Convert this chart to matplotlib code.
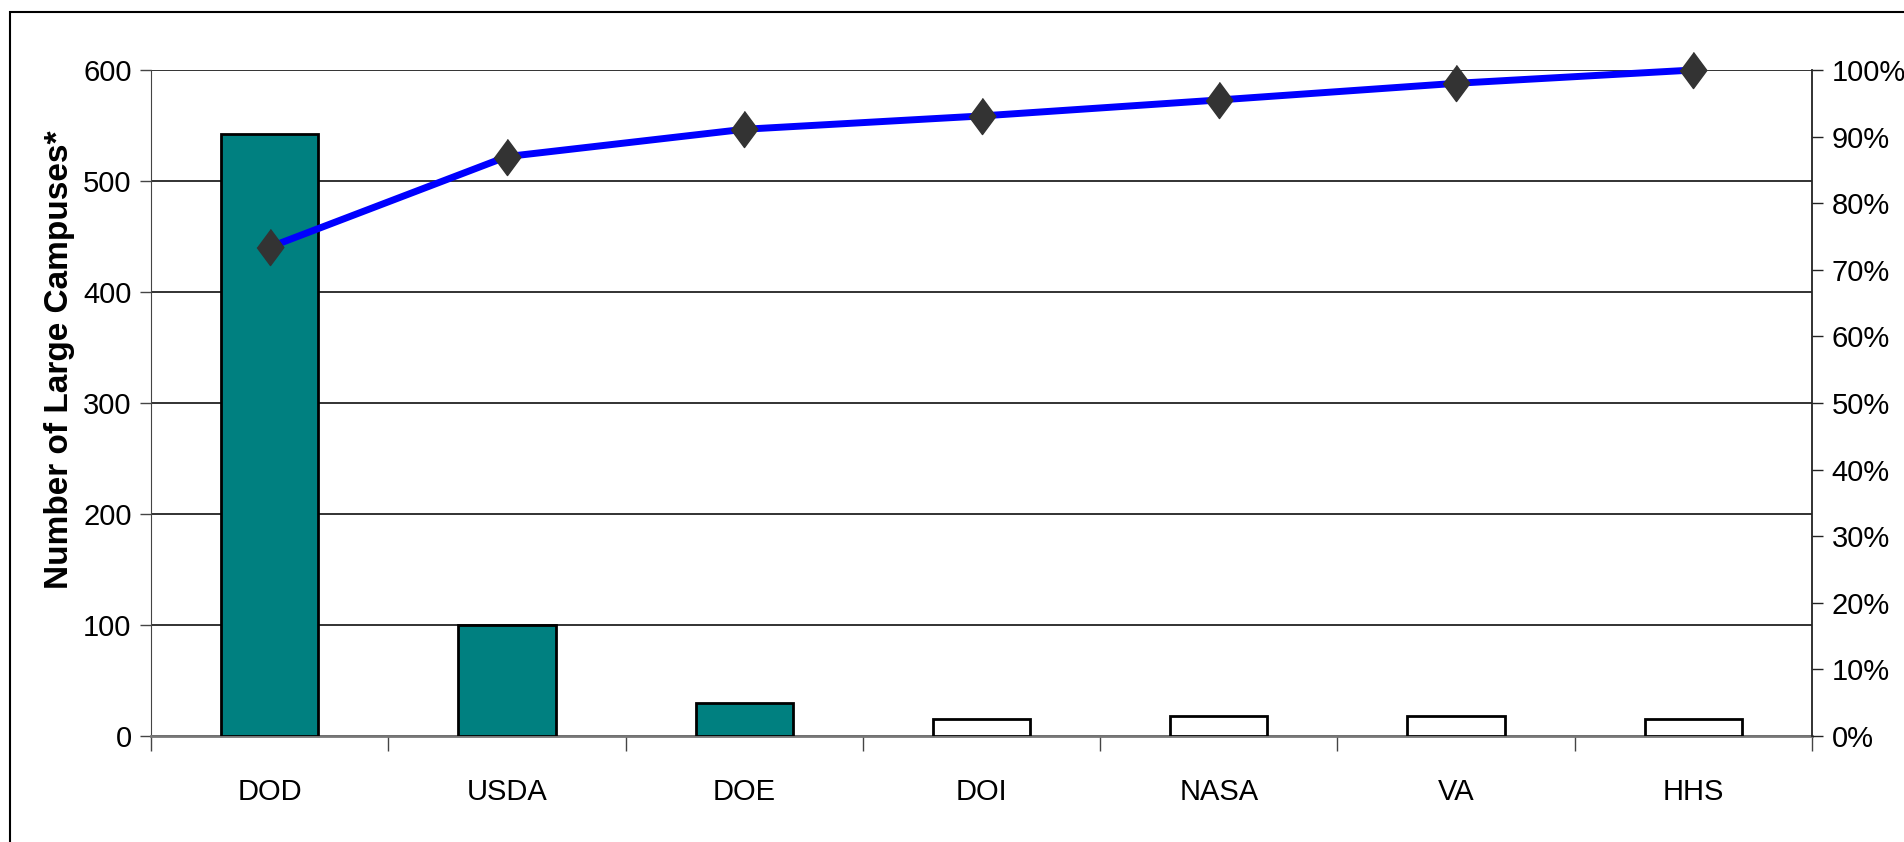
import numpy as np
import matplotlib.pyplot as plt
from matplotlib.patches import Rectangle
from matplotlib.ticker import FixedLocator, NullFormatter

plt.rcParams['font.family'] = ['Liberation Sans Narrow', 'Liberation Sans', 'DejaVu Sans']

agencies = ['DOD', 'USDA', 'DOE', 'DOI', 'NASA', 'VA', 'HHS']
campuses = [542, 100, 30, 15, 18, 18, 15]
cumulative_pct = [73.4, 87.0, 91.1, 93.1, 95.5, 98.0, 100.0]
bar_colors = ['#008080', '#008080', '#008080', 'white', 'white', 'white', 'white']

W, H = 1904, 842
fig = plt.figure(figsize=(W / 100, H / 100), dpi=100)

# outer chart frame (only top/left edges fall inside the image)
fig.patches.append(Rectangle((10 / W, -0.5), 1.2, 0.5 + (H - 12) / H, transform=fig.transFigure,
                             fill=False, edgecolor='black', linewidth=1.5, clip_on=False))

ax = fig.add_axes([151 / W, 1 - 736 / H, (1812 - 151) / W, (736 - 70) / H])
x = np.arange(len(agencies))

ax.bar(x, campuses, width=0.41, color=bar_colors, edgecolor='black', linewidth=2, zorder=3)
ax.set_xlim(-0.5, len(agencies) - 0.5)
ax.set_ylim(0, 600)
ax.set_yticks(range(0, 601, 100))
ax.yaxis.grid(True, color='#222222', linewidth=1.3, zorder=0)
ax.set_axisbelow(True)

ax.set_xticks(x)
ax.set_xticklabels(agencies, fontsize=21)
ax.tick_params(axis='x', length=0, pad=30)
ax.xaxis.set_minor_locator(FixedLocator(np.arange(-0.5, len(agencies), 1.0)))
ax.xaxis.set_minor_formatter(NullFormatter())
ax.tick_params(axis='x', which='minor', length=11, width=1, color='#444444', direction='out')
ax.tick_params(axis='y', length=8, width=1, color='#444444', labelsize=21, pad=6)

ax.spines['top'].set_visible(False)
ax.spines['right'].set_visible(False)
ax.spines['left'].set_color('#444444')
ax.spines['bottom'].set_color('#777777')
ax.spines['bottom'].set_linewidth(2)

ax.set_ylabel('Number of Large Campuses*', fontsize=24, fontweight='bold',
              family=['Liberation Sans', 'DejaVu Sans'])
ax.yaxis.set_label_coords(-0.046, 0.565)

ax2 = ax.twinx()
ax2.set_ylim(0, 100)
ax2.set_yticks(range(0, 101, 10))
ax2.set_yticklabels([f'{v}%' for v in range(0, 101, 10)])
ax2.tick_params(axis='y', length=8, width=1, color='#222222', labelsize=21, pad=6)
for s in ['top', 'left', 'bottom']:
    ax2.spines[s].set_visible(False)
ax2.spines['right'].set_color('#222222')
ax2.spines['right'].set_linewidth(1.3)

diamond = [(0, 0.5), (0.37, 0), (0, -0.5), (-0.37, 0)]
ax2.plot(x, cumulative_pct, color='#0000FF', linewidth=5, marker=diamond,
         markersize=26, markerfacecolor='#333333', markeredgecolor='#333333',
         zorder=5, clip_on=False)

fig.savefig('out.png', dpi=100, facecolor='white')
